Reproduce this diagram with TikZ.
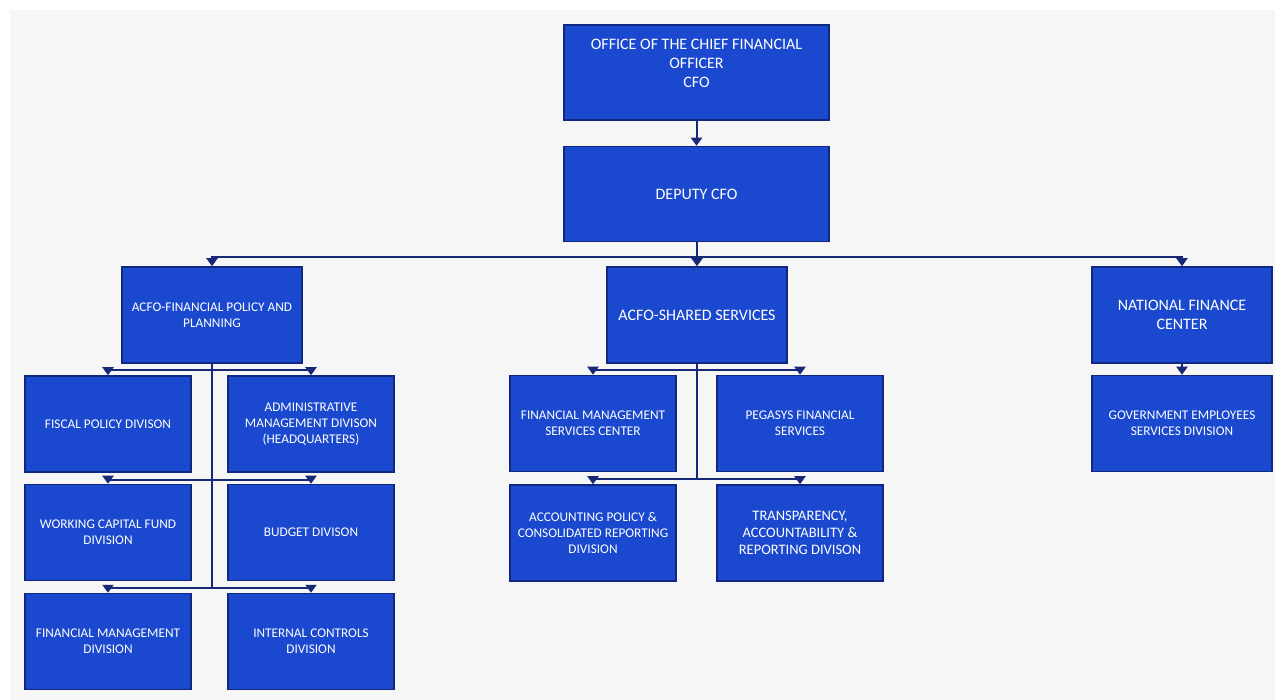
\documentclass[tikz,border=0pt]{standalone}
\usepackage{fontspec}
\setmainfont{Carlito}
\usepackage{tikz}
\usetikzlibrary{arrows.meta}
\usepackage{xcolor}
\definecolor{BoxBlue}{RGB}{26,72,206}
\definecolor{BoxEdge}{RGB}{16,40,128}
\definecolor{LineNavy}{RGB}{22,40,118}
\definecolor{BgGray}{RGB}{246,246,246}
\newcommand{\FontBig}{\fontsize{16}{19}\selectfont}
\newcommand{\FontMid}{\fontsize{14.5}{17}\selectfont}
\newcommand{\FontSmall}{\fontsize{13.3}{16}\selectfont}
\tikzstyle{TxtBig}=[text=white,align=center,font=\FontBig]
\tikzstyle{OrgBox}=[rectangle,draw=BoxEdge,fill=BoxBlue,line width=1.5pt,
text=white,align=center,inner sep=2pt,font=\FontSmall]
\tikzstyle{BoxTop}=[OrgBox,minimum width=265pt,minimum height=95pt,font=\FontBig]
\tikzstyle{BoxHead}=[OrgBox,minimum width=180pt,minimum height=96pt]
\tikzstyle{BoxSub}=[OrgBox,minimum width=166pt,minimum height=96pt]
\tikzstyle{OrgLine}=[LineNavy,line width=2pt]
\tikzstyle{OrgLink}=[OrgLine,-{Triangle[width=11pt,length=8pt]}]

\begin{document}
\begin{tikzpicture}[x=1pt,y=-1pt]
        \fill[white](0,0)rectangle(1275,700);
        \fill[BgGray](10,10)rectangle(1275,700);
        \useasboundingbox(0,0)rectangle(1275,700);
        % top of the chart
        \node[BoxTop,label={[TxtBig,yshift=9.5pt]center:OFFICE OF THE CHIEF FINANCIAL\\OFFICER\\CFO}](cfo)at(696.5,72.5){};
        \node[BoxTop](dep)at(696.5,194){DEPUTY CFO};
        % assistant CFOs
        \node[BoxHead](fpp)at(212,315){ACFO-FINANCIAL POLICY AND\\PLANNING};
        \node[BoxHead,font=\FontBig](ss)at(697,315){ACFO-SHARED SERVICES};
        \node[BoxHead,font=\FontBig](nfc)at(1182,315){NATIONAL FINANCE\\CENTER};
        % divisions
        \node[BoxSub](fis)at(108,424){FISCAL POLICY DIVISON};
        \node[BoxSub](adm)at(311,424){ADMINISTRATIVE\\MANAGEMENT DIVISON\\(HEADQUARTERS)};
        \node[BoxSub](wcf)at(108,532.5){WORKING CAPITAL FUND\\DIVISION};
        \node[BoxSub](bud)at(311,532.5){BUDGET DIVISON};
        \node[BoxSub](fmd)at(108,641.5){FINANCIAL MANAGEMENT\\DIVISION};
        \node[BoxSub](icd)at(311,641.5){INTERNAL CONTROLS\\DIVISION};
        \node[BoxSub](fmsc)at(593,423.5){FINANCIAL MANAGEMENT\\SERVICES CENTER};
        \node[BoxSub](peg)at(800,423.5){PEGASYS FINANCIAL\\SERVICES};
        \node[BoxSub](apcr)at(593,533){ACCOUNTING POLICY \&\\CONSOLIDATED REPORTING\\DIVISION};
        \node[BoxSub,font=\FontMid](tar)at(800,533){TRANSPARENCY,\\ACCOUNTABILITY \&\\REPORTING DIVISON};
        \node[BoxHead](ges)at(1182,423.5){GOVERNMENT EMPLOYEES\\SERVICES DIVISION};
        % junctions
        \coordinate(jd)at(696.5,257);
        \coordinate(jf1)at(212,370);
        \coordinate(jf2)at(212,480);
        \coordinate(jf3)at(212,588);
        \coordinate(js1)at(697,370);
        \coordinate(js2)at(697,479);
        % connectors
        \draw[OrgLink](cfo)--(dep);
        \draw[OrgLine](dep.south)--(jd);
        \draw[OrgLink](jd)-|(fpp.north);
        \draw[OrgLink](jd)-|(ss.north);
        \draw[OrgLink](jd)-|(nfc.north);
        \draw[OrgLine](fpp.south)--(jf3);
        \draw[OrgLink](jf1)-|(fis.north);
        \draw[OrgLink](jf1)-|(adm.north);
        \draw[OrgLink](jf2)-|(wcf.north);
        \draw[OrgLink](jf2)-|(bud.north);
        \draw[OrgLink](jf3)-|(fmd.north);
        \draw[OrgLink](jf3)-|(icd.north);
        \draw[OrgLine](ss.south)--(js2);
        \draw[OrgLink](js1)-|(fmsc.north);
        \draw[OrgLink](js1)-|(peg.north);
        \draw[OrgLink](js2)-|(apcr.north);
        \draw[OrgLink](js2)-|(tar.north);
        \draw[OrgLink](nfc)--(ges);
    \end{tikzpicture}
\end{document}
